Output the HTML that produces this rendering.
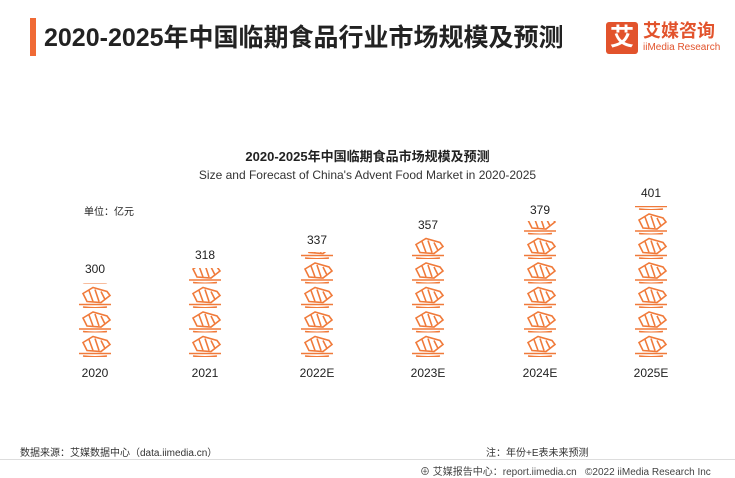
<!DOCTYPE html>
<html><head><meta charset="utf-8"><style>
body{margin:0;width:735px;height:478px;background:#fff;font-family:"Liberation Sans","Noto Sans CJK SC",sans-serif;position:relative;overflow:hidden}
.t{position:absolute;white-space:nowrap}
</style></head><body>
<div style="position:absolute;left:30px;top:18px;width:6px;height:38px;background:#f06a35"></div>
<div class="t" style="left:44px;top:18px;font-size:25px;font-weight:bold;color:#222">2020-2025年中国临期食品行业市场规模及预测</div>
<div style="position:absolute;left:606px;top:22px;width:32px;height:32px;background:#e2532c;border-radius:3px;color:#fff;font-size:24px;font-weight:bold;text-align:center;line-height:32px">艾</div>
<div class="t" style="left:643px;top:21px;font-size:18px;line-height:20px;font-weight:bold;color:#e2532c">艾媒咨询</div>
<div class="t" style="left:643px;top:42px;font-size:10px;line-height:11px;color:#e2532c">iiMedia Research</div>
<div class="t" style="left:0;width:735px;text-align:center;top:146px;font-size:13px;font-weight:bold;color:#222">2020-2025年中国临期食品市场规模及预测</div>
<div class="t" style="left:0;width:735px;text-align:center;top:168px;font-size:12px;color:#333">Size and Forecast of China's Advent Food Market in 2020-2025</div>
<div class="t" style="left:84px;top:203px;font-size:10px;color:#222">单位：亿元</div>
<svg width="735" height="478" style="position:absolute;left:0;top:0">
<defs>
<pattern id="f" patternUnits="userSpaceOnUse" width="36" height="24.5" x="0" y="0">
<g fill="none" stroke="#f07a3a" stroke-width="1.6">
<path d="M2 21 L34 21 M6 23.5 Q18 25 30 23.5"/>
<path d="M6 10 L16 4 L30 8 L33 12 L24 19 L10 18 Z"/>
<path d="M12 7 L16 18 M18 6 L22 18 M24 8 L28 16"/>
</g>
</pattern>
</defs>
<g transform="translate(77,357)"><rect x="0" y="-74" width="36" height="74" fill="url(#f)"/></g>
<g transform="translate(187,357)"><rect x="0" y="-89" width="36" height="89" fill="url(#f)"/></g>
<g transform="translate(299,357)"><rect x="0" y="-105" width="36" height="105" fill="url(#f)"/></g>
<g transform="translate(410,357)"><rect x="0" y="-121" width="36" height="121" fill="url(#f)"/></g>
<g transform="translate(522,357)"><rect x="0" y="-136" width="36" height="136" fill="url(#f)"/></g>
<g transform="translate(633,357)"><rect x="0" y="-151" width="36" height="151" fill="url(#f)"/></g>
<g font-size="12" fill="#222" text-anchor="middle" font-family="Liberation Sans,sans-serif">
<text x="95" y="273">300</text><text x="205" y="259">318</text><text x="317" y="244">337</text>
<text x="428" y="229">357</text><text x="540" y="214">379</text><text x="651" y="197">401</text>
<text x="95" y="377">2020</text><text x="205" y="377">2021</text><text x="317" y="377">2022E</text>
<text x="428" y="377">2023E</text><text x="540" y="377">2024E</text><text x="651" y="377">2025E</text>
</g>
</svg>
<div class="t" style="left:20px;top:444px;font-size:10px;color:#333">数据来源：艾媒数据中心（data.iimedia.cn）</div>
<div class="t" style="left:486px;top:444px;font-size:10px;color:#333">注：年份+E表未来预测</div>
<div style="position:absolute;left:0;top:459px;width:735px;height:1px;background:#ddd"></div>
<div class="t" style="left:420px;top:463px;font-size:10px;color:#444">⊕ 艾媒报告中心：report.iimedia.cn &nbsp;&nbsp;©2022 iiMedia Research Inc</div>
</body></html>
